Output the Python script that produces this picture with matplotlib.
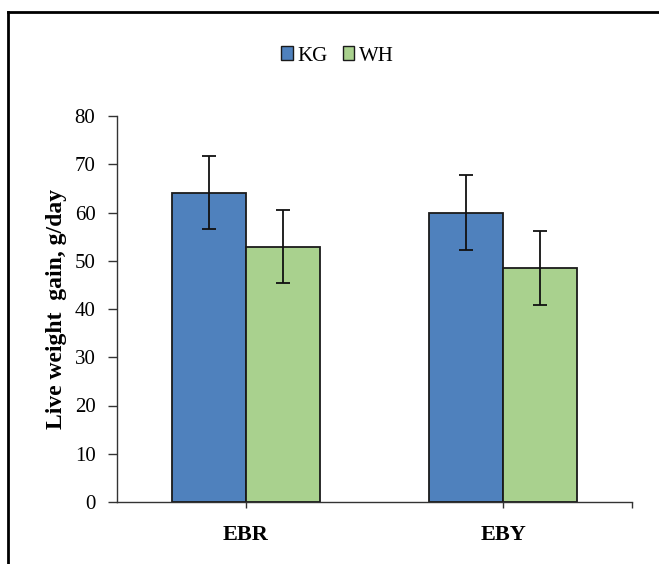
import matplotlib
matplotlib.use("Agg")
import matplotlib.pyplot as plt
from matplotlib.lines import Line2D
import numpy as np

categories = ["EBR", "EBY"]
series_names = ["KG", "WH"]
kg_values = [64.1, 60.0]
wh_values = [52.9, 48.5]
kg_errors = [7.6, 7.7]
wh_errors = [7.6, 7.6]
y_ticks = [0, 10, 20, 30, 40, 50, 60, 70, 80]

colors = ["#4F81BD", "#A9D18E"]

plt.rcParams["font.family"] = ["Liberation Serif", "DejaVu Serif"]

fig = plt.figure(figsize=(6.59, 5.64), dpi=100)
ax = fig.add_axes([117 / 659, 62 / 564, (632 - 117) / 659, (502 - 116) / 564])

x = np.arange(len(categories))
w = 0.287
err_kw = dict(ecolor="#111111", elinewidth=1.3, capsize=5, capthick=1.3)
ax.bar(x - w / 2, kg_values, w, yerr=kg_errors, color=colors[0],
       edgecolor="#1a1a1a", linewidth=1.3, label=series_names[0], error_kw=err_kw)
ax.bar(x + w / 2, wh_values, w, yerr=wh_errors, color=colors[1],
       edgecolor="#1a1a1a", linewidth=1.3, label=series_names[1], error_kw=err_kw)

ax.set_xlim(-0.5, 1.5)
ax.set_ylim(0, 80)
ax.set_yticks(y_ticks)
ax.set_yticklabels([str(t) for t in y_ticks], fontsize=15)
ax.set_xticks(x)
ax.set_xticklabels(categories, fontsize=16, fontweight="bold")
ax.set_xticks([1.5], minor=True)
ax.tick_params(axis="x", which="both", length=4.5, width=1, color="#333333", pad=12)
ax.tick_params(axis="y", length=6.5, width=1, color="#333333", pad=9)

for s in ["top", "right"]:
    ax.spines[s].set_visible(False)
for s in ["left", "bottom"]:
    ax.spines[s].set_color("#333333")
    ax.spines[s].set_linewidth(1)

ax.set_ylabel("Live weight  gain, g/day", fontsize=17, fontweight="bold")
ax.yaxis.set_label_coords(-0.097, 0.5)

leg = fig.legend(loc="center", bbox_to_anchor=(0.512, 1 - 56 / 564), ncol=2,
                 frameon=False, fontsize=15, handlelength=0.55, handleheight=0.65,
                 handletextpad=0.2, columnspacing=0.75)
for p in leg.get_patches():
    p.set_edgecolor("#1a1a1a")
    p.set_linewidth(1)

# outer frame (left and top edges)
fx = 7.5 / 659
fy = 1 - 12 / 564
fig.add_artist(Line2D([fx, fx], [0, fy], transform=fig.transFigure, color="black", lw=2))
fig.add_artist(Line2D([fx, 1], [fy, fy], transform=fig.transFigure, color="black", lw=2))

fig.savefig("out.png", dpi=100)
